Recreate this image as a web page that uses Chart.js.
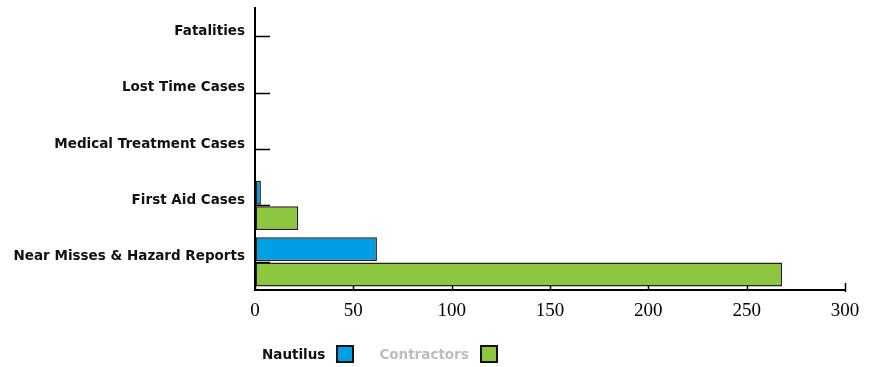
<!DOCTYPE html>
<html>
<head>
<meta charset="utf-8">
<script src="https://cdn.jsdelivr.net/npm/chart.js@4/dist/chart.umd.min.js"></script>
<style>
body { margin: 0; background: #fff; }
#wrap { position: relative; width: 872px; height: 367px; }
#legend { position: absolute; left: 262px; top: 345px; display: flex; align-items: center;
  font: bold 13.5px 'DejaVu Sans', sans-serif; }
#legend .item { display: flex; align-items: center; margin-right: 25px; }
#legend .box { width: 14px; height: 14px; border: 2px solid #111; margin-left: 11px; }
</style>
</head>
<body>
<div id="wrap">
  <canvas id="chart" width="872" height="367"></canvas>
  <div id="legend"></div>
</div>
<script>
// categories (top to bottom)
const categories = ['Fatalities', 'Lost Time Cases', 'Medical Treatment Cases', 'First Aid Cases', 'Near Misses & Hazard Reports'];
// series values
const nautilus = [0, 0, 0, 3, 62];
const contractors = [0, 0, 0, 22, 268];
// x axis tick labels
const xTicks = [0, 50, 100, 150, 200, 250, 300];

const seriesNames = ['Nautilus', 'Contractors'];
const seriesColors = ['#009fe3', '#8dc63f'];
const legendTextColors = ['#111', '#bdbdbd'];

// short tick marks pointing into the plot
const tickMarks = {
  id: 'tickMarks',
  afterDatasetsDraw(chart) {
    const { ctx, scales: { x, y } } = chart;
    ctx.save();
    ctx.strokeStyle = '#000';
    ctx.lineWidth = 1.5;
    ctx.beginPath();
    y.ticks.forEach((t, i) => {
      const py = Math.round(y.getPixelForTick(i)) + 0.5;
      ctx.moveTo(y.right, py);
      ctx.lineTo(y.right + 15, py);
    });
    x.ticks.forEach((t, i) => {
      const px = Math.round(x.getPixelForTick(i)) + 0.5;
      const last = i === x.ticks.length - 1;
      ctx.moveTo(px, x.top - (last ? 7 : 4));
      ctx.lineTo(px, x.top + (last ? 2 : 0));
    });
    ctx.stroke();
    ctx.restore();
  }
};

const chart = new Chart(document.getElementById('chart'), {
  type: 'bar',
  data: {
    labels: categories,
    datasets: [
      { label: seriesNames[0], data: nautilus, backgroundColor: seriesColors[0], borderColor: '#222', borderWidth: 1.5, borderSkipped: false },
      { label: seriesNames[1], data: contractors, backgroundColor: seriesColors[1], borderColor: '#222', borderWidth: 1.5, borderSkipped: false }
    ]
  },
  options: {
    indexAxis: 'y',
    responsive: false,
    animation: false,
    layout: { padding: { top: 8, right: 27, left: 0, bottom: 0 } },
    datasets: { bar: { categoryPercentage: 0.9, barPercentage: 0.94 } },
    scales: {
      x: {
        min: 0, max: 300,
        afterBuildTicks: s => { s.ticks = xTicks.map(v => ({ value: v })); },
        afterFit: s => { s.height = 77; s.paddingLeft = 0; s.paddingRight = 0; },
        grid: { drawOnChartArea: false, drawTicks: false },
        border: { color: '#000', width: 2 },
        ticks: { color: '#000', padding: 10, maxRotation: 0, font: { family: 'Liberation Serif', size: 19 } }
      },
      y: {
        afterFit: s => { s.width = 255; s.paddingTop = 0; s.paddingBottom = 0; },
        grid: { drawOnChartArea: false, drawTicks: false },
        border: { color: '#000', width: 2 },
        ticks: { color: '#111', padding: 10, labelOffset: -5, font: { family: 'DejaVu Sans', size: 13.5, weight: 'bold' } }
      }
    },
    plugins: { legend: { display: false }, tooltip: { enabled: false } }
  },
  plugins: [tickMarks]
});

// legend built from the chart datasets
const legendEl = document.getElementById('legend');
chart.data.datasets.forEach((ds, i) => {
  const item = document.createElement('div');
  item.className = 'item';
  item.innerHTML = '<span style="color:' + legendTextColors[i] + '">' + ds.label + '</span><span class="box" style="background:' + ds.backgroundColor + '"></span>';
  legendEl.appendChild(item);
});
</script>
</body>
</html>
